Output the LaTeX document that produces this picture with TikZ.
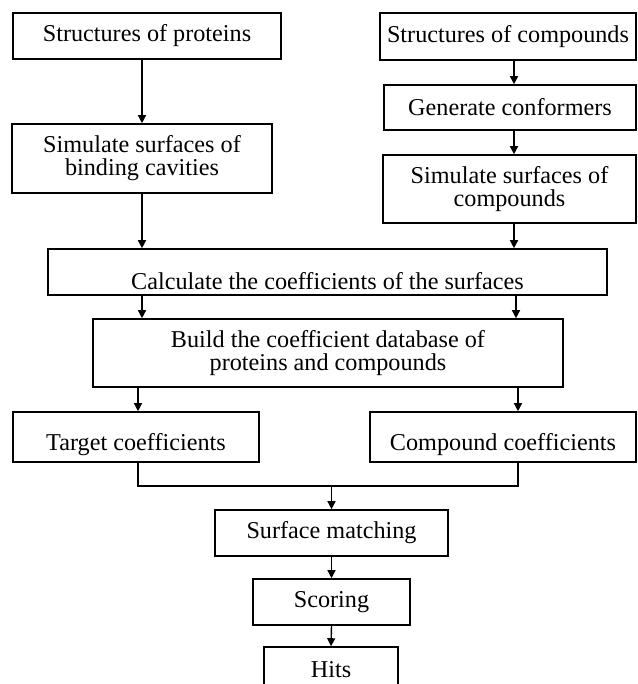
\documentclass[tikz,border=0pt]{standalone}
\usepackage{fontspec}
\setmainfont{Liberation Serif}
\usetikzlibrary{arrows.meta, positioning, calc}

\begin{document}
\begin{tikzpicture}[x=0.5pt, y=-0.5pt,
  every node/.style={font=\fontsize{12.1}{11.5}\selectfont},
  box/.style={draw, line width=0.8pt, inner sep=0pt, align=center},
  arr/.style={-{Triangle[length=4pt, width=4pt]}, line width=0.7pt}]
  \useasboundingbox (0,0) rectangle (637,684);

  %% LEFT COLUMN (proteins)
  \node[box, minimum width=134pt, minimum height=23pt] (prot) at (147,36) {Structures of proteins};
  \node[box, minimum width=130pt, minimum height=34.5pt] (cav) at (142,158.5)
    {Simulate surfaces of\\binding cavities};

  %% RIGHT COLUMN (compounds)
  \node[box, minimum width=128pt, minimum height=23.5pt] (comp) at (508,36.5) {Structures of compounds};
  \node[box, minimum width=126pt, minimum height=22.5pt] (conf) at (510,107.5) {Generate conformers};
  \node[box, minimum width=126.5pt, minimum height=34pt] (simc) at (509.5,189)
    {Simulate surfaces of\\compounds};

  %% Shared steps
  \node[box, minimum width=279.5pt, minimum height=23pt, text height=17pt, text depth=0pt] (calc) at (327.5,272)
    {Calculate the coefficients of the surfaces};
  \node[box, minimum width=235pt, minimum height=34pt] (build) at (328,353)
    {Build the coefficient database of\\proteins and compounds};
  \node[box, minimum width=123pt, minimum height=25pt, text height=13pt, text depth=0pt] (tgt) at (136,437)
    {Target coefficients};
  \node[box, minimum width=133pt, minimum height=25pt, text height=13pt, text depth=0pt] (ccoef) at (503,437)
    {Compound coefficients};
  \node[box, minimum width=116.5pt, minimum height=23pt] (match) at (331.5,533) {Surface matching};
  \node[box, minimum width=78.5pt, minimum height=23pt] (score) at (331.5,602) {Scoring};
  \node[box, minimum width=67pt, minimum height=23pt] (hits) at (331,670) {Hits};

  %% Arrows
  \draw[arr] (cav.north |- prot.south) -- (cav.north);
  \draw[arr] ([xshift=2pt]conf.north |- comp.south) -- ([xshift=2pt]conf.north);
  \draw[arr] ([xshift=2pt]conf.south) -- ([xshift=2pt]conf.south |- simc.north);
  \draw[arr] (cav.south) -- (cav.south |- calc.north);
  \draw[arr] ([xshift=2pt]conf.south |- simc.south) -- ([xshift=2pt]conf.south |- calc.north);
  \draw[arr] (cav.south |- calc.south) -- (cav.south |- build.north);
  \draw[arr] ([xshift=3pt]conf.south |- calc.south) -- ([xshift=3pt]conf.south |- build.north);
  \draw[arr] ([xshift=1pt]tgt.north |- build.south) -- ([xshift=1pt]tgt.north);
  \draw[arr] ([xshift=7.5pt]ccoef.north |- build.south) -- ([xshift=7.5pt]ccoef.north);

  %% Merge of the two coefficient sets
  \coordinate (mrg) at (331.5,486);
  \draw[line width=0.7pt] ([xshift=1pt]tgt.south) |- (mrg) -| ([xshift=7.5pt]ccoef.south);
  \draw[arr] (mrg) -- (match.north);
  \draw[arr] (match.south) -- (score.north);
  \draw[arr] (score.south) -- (hits.north);
\end{tikzpicture}
\end{document}
